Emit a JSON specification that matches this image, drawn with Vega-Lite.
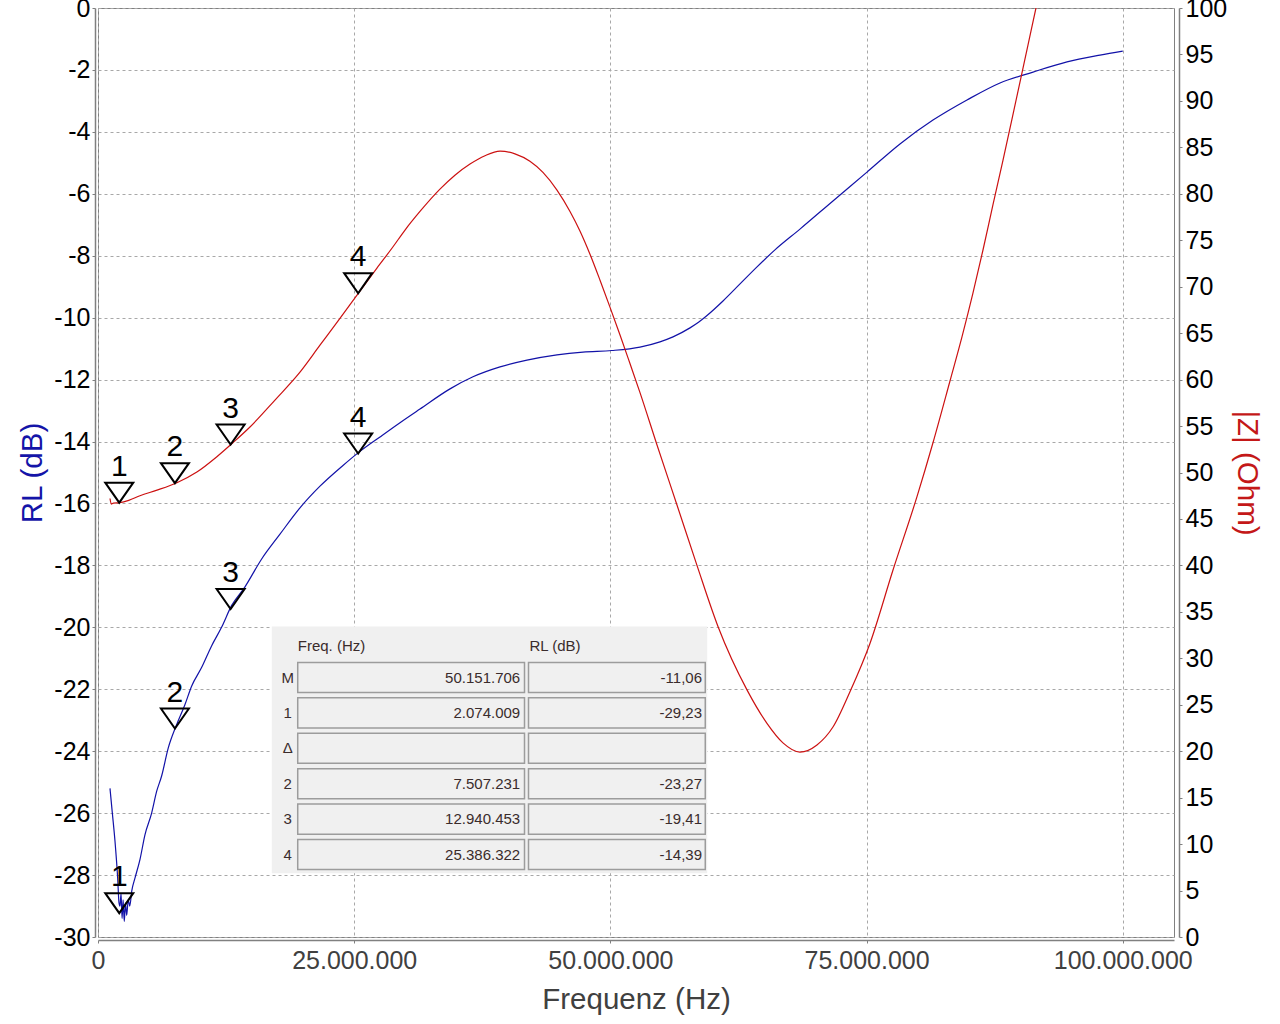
{
  "$schema": "https://vega.github.io/schema/vega-lite/v6.json",
  "width": 1076,
  "height": 929,
  "autosize": "none",
  "padding": {"left": 98, "top": 8, "right": 106, "bottom": 87},
  "background": "white",
  "config": {
    "font": "Liberation Sans",
    "locale": {"number": {"decimal": ",", "thousands": ".", "grouping": [3], "currency": ["", " €"], "minus": "-"}},
    "view": {"stroke": "#808080", "strokeWidth": 1}
  },
  "datasets": {
    "rl": [
      {"f": 1170000, "rl": -25.2}, {"f": 1400000, "rl": -26.0}, {"f": 1657000, "rl": -26.9},
      {"f": 1920000, "rl": -28.1}, {"f": 2050000, "rl": -28.9}, {"f": 2144000, "rl": -29.0},
      {"f": 2250000, "rl": -28.6}, {"f": 2350000, "rl": -29.4}, {"f": 2450000, "rl": -28.8},
      {"f": 2563000, "rl": -29.5}, {"f": 2680000, "rl": -28.9}, {"f": 2800000, "rl": -29.3},
      {"f": 2953000, "rl": -28.8}, {"f": 3100000, "rl": -29.0}, {"f": 3300000, "rl": -28.5},
      {"f": 3606000, "rl": -28.1}, {"f": 4094000, "rl": -27.5}, {"f": 4581000, "rl": -26.7},
      {"f": 5234000, "rl": -26.0}, {"f": 5721000, "rl": -25.3}, {"f": 6209000, "rl": -24.8},
      {"f": 6852000, "rl": -23.9}, {"f": 7602000, "rl": -23.2}, {"f": 8480000, "rl": -22.5},
      {"f": 9133000, "rl": -21.9}, {"f": 10107000, "rl": -21.3}, {"f": 11082000, "rl": -20.6},
      {"f": 12057000, "rl": -20.0}, {"f": 13031000, "rl": -19.3}, {"f": 14327000, "rl": -18.7},
      {"f": 15955000, "rl": -17.8}, {"f": 17739000, "rl": -17.0}, {"f": 19688000, "rl": -16.15},
      {"f": 21637000, "rl": -15.45}, {"f": 23879000, "rl": -14.78}, {"f": 25439000, "rl": -14.35},
      {"f": 27520000, "rl": -13.85}, {"f": 29470000, "rl": -13.39}, {"f": 31420000, "rl": -12.95},
      {"f": 34350000, "rl": -12.3}, {"f": 36590000, "rl": -11.91}, {"f": 39230000, "rl": -11.59},
      {"f": 41860000, "rl": -11.37}, {"f": 44790000, "rl": -11.2}, {"f": 47330000, "rl": -11.11},
      {"f": 50152000, "rl": -11.06}, {"f": 52890000, "rl": -10.95}, {"f": 54840000, "rl": -10.78},
      {"f": 56110000, "rl": -10.62}, {"f": 57770000, "rl": -10.33}, {"f": 58600000, "rl": -10.15},
      {"f": 59430000, "rl": -9.93}, {"f": 60990000, "rl": -9.46}, {"f": 62650000, "rl": -8.91},
      {"f": 64310000, "rl": -8.36}, {"f": 66060000, "rl": -7.81}, {"f": 68500000, "rl": -7.14},
      {"f": 71720000, "rl": -6.23}, {"f": 75040000, "rl": -5.3}, {"f": 78260000, "rl": -4.39},
      {"f": 81480000, "rl": -3.62}, {"f": 84800000, "rl": -2.97}, {"f": 88020000, "rl": -2.42},
      {"f": 91240000, "rl": -2.07}, {"f": 94560000, "rl": -1.74}, {"f": 97780000, "rl": -1.52},
      {"f": 100000000, "rl": -1.39}
    ],
    "z": [
      {"f": 1170000, "z": 47.2}, {"f": 1300000, "z": 46.6}, {"f": 1500000, "z": 46.7},
      {"f": 2144000, "z": 46.75}, {"f": 3000000, "z": 47.0}, {"f": 4094000, "z": 47.5},
      {"f": 5760000, "z": 48.1}, {"f": 7700000, "z": 48.9}, {"f": 9650000, "z": 50.05},
      {"f": 11600000, "z": 51.7}, {"f": 13160000, "z": 53.2}, {"f": 14830000, "z": 54.9},
      {"f": 17270000, "z": 57.8}, {"f": 19710000, "z": 60.8}, {"f": 21660000, "z": 63.7},
      {"f": 23610000, "z": 66.6}, {"f": 25470000, "z": 69.4}, {"f": 27220000, "z": 72.0},
      {"f": 28790000, "z": 74.3}, {"f": 29960000, "z": 76.1}, {"f": 31420000, "z": 78.1},
      {"f": 33370000, "z": 80.5}, {"f": 34830000, "z": 82.0}, {"f": 36300000, "z": 83.2},
      {"f": 37760000, "z": 84.1}, {"f": 39230000, "z": 84.6}, {"f": 40690000, "z": 84.3},
      {"f": 42150000, "z": 83.5}, {"f": 43420000, "z": 82.3}, {"f": 44790000, "z": 80.4},
      {"f": 46060000, "z": 78.1}, {"f": 47030000, "z": 76.0}, {"f": 48010000, "z": 73.5},
      {"f": 48990000, "z": 70.7}, {"f": 49960000, "z": 67.8}, {"f": 50940000, "z": 64.8},
      {"f": 51920000, "z": 61.7}, {"f": 52890000, "z": 58.6}, {"f": 54550000, "z": 52.96},
      {"f": 56500000, "z": 46.5}, {"f": 58450000, "z": 40.0}, {"f": 60510000, "z": 33.4},
      {"f": 63330000, "z": 26.6}, {"f": 65280000, "z": 23.0}, {"f": 66840000, "z": 20.9},
      {"f": 68500000, "z": 19.9}, {"f": 70160000, "z": 20.67}, {"f": 71720000, "z": 22.6},
      {"f": 73380000, "z": 26.4}, {"f": 75330000, "z": 31.6}, {"f": 77580000, "z": 39.5},
      {"f": 79920000, "z": 47.4}, {"f": 81480000, "z": 53.2}, {"f": 83140000, "z": 59.85},
      {"f": 84310000, "z": 64.6}, {"f": 85380000, "z": 69.3}, {"f": 86360000, "z": 73.95},
      {"f": 87330000, "z": 78.8}, {"f": 88310000, "z": 83.6}, {"f": 89190000, "z": 88.05},
      {"f": 90160000, "z": 93.0}, {"f": 90750000, "z": 96.0}, {"f": 91530000, "z": 100.0},
      {"f": 91920000, "z": 101.9}
    ],
    "markers": [
      {"f": 2074009, "rl": -29.23, "z": 46.75, "label": "1"},
      {"f": 7507231, "rl": -23.27, "z": 48.85, "label": "2"},
      {"f": 12940453, "rl": -19.41, "z": 53.0, "label": "3"},
      {"f": 25386322, "rl": -14.39, "z": 69.3, "label": "4"}
    ],
    "table": [
      {"key": "M", "freq": "50.151.706", "rl": "-11,06"},
      {"key": "1", "freq": "2.074.009", "rl": "-29,23"},
      {"key": "Δ", "freq": "", "rl": ""},
      {"key": "2", "freq": "7.507.231", "rl": "-23,27"},
      {"key": "3", "freq": "12.940.453", "rl": "-19,41"},
      {"key": "4", "freq": "25.386.322", "rl": "-14,39"}
    ]
  },
  "layer": [
    {
      "layer": [
        {
          "data": {"name": "rl"},
          "mark": {"type": "line", "color": "#1212a8", "strokeWidth": 1.2, "interpolate": "monotone"},
          "encoding": {
            "x": {
              "field": "f", "type": "quantitative",
              "scale": {"domain": [0, 105000000], "nice": false},
              "axis": {
                "values": [0, 25000000, 50000000, 75000000, 100000000],
                "format": ",d", "title": "Frequenz (Hz)",
                "titleFontSize": 29.5, "titleFontWeight": "normal", "titleColor": "#404040",
                "labelFontSize": 25, "labelColor": "#404040", "labelFlush": false,
                "grid": true, "gridColor": "#a8a8a8", "gridDash": [3, 3],
                "domainColor": "#808080", "domainWidth": 1.5, "tickColor": "#808080", "tickSize": 3,
                "offset": 3, "labelPadding": 5, "titlePadding": 12
              }
            },
            "y": {
              "field": "rl", "type": "quantitative",
              "scale": {"domain": [-30, 0], "nice": false},
              "axis": {
                "orient": "left",
                "values": [-30, -28, -26, -24, -22, -20, -18, -16, -14, -12, -10, -8, -6, -4, -2, 0],
                "title": "RL (dB)", "titleFontSize": 29.5, "titleFontWeight": "normal", "titleColor": "#1414a8",
                "labelFontSize": 25, "labelColor": "#000000", "labelFlush": false, "labelOverlap": false,
                "grid": true, "gridColor": "#a8a8a8", "gridDash": [3, 3],
                "domainColor": "#808080", "domainWidth": 1.5, "tickColor": "#808080", "tickSize": 3,
                "offset": 3, "labelPadding": 2, "titlePadding": 6
              }
            }
          }
        },
        {
          "data": {"values": [{}]},
          "mark": {"type": "rect", "fill": "#f0f0f0"},
          "encoding": {
            "x": {"datum": 16960000, "type": "quantitative"},
            "x2": {"datum": 59450000},
            "y": {"datum": -19.97, "type": "quantitative"},
            "y2": {"datum": -27.94}
          }
        },
        {
          "data": {"name": "markers"},
          "mark": {"type": "point", "shape": "M-1,-1.43L1,-1.43L0,0Z", "size": 784, "filled": false, "color": "black", "strokeWidth": 2, "opacity": 1},
          "encoding": {
            "x": {"field": "f", "type": "quantitative"},
            "y": {"field": "rl", "type": "quantitative"}
          }
        },
        {
          "data": {"name": "markers"},
          "mark": {"type": "text", "fontSize": 30, "dy": -27, "baseline": "alphabetic", "color": "black"},
          "encoding": {
            "x": {"field": "f", "type": "quantitative"},
            "y": {"field": "rl", "type": "quantitative"},
            "text": {"field": "label"}
          }
        }
      ]
    },
    {
      "layer": [
        {
          "data": {"name": "z"},
          "mark": {"type": "line", "color": "#cc1111", "strokeWidth": 1.2, "clip": true, "interpolate": "monotone"},
          "encoding": {
            "x": {"field": "f", "type": "quantitative"},
            "y": {
              "field": "z", "type": "quantitative",
              "scale": {"domain": [0, 100], "nice": false},
              "axis": {
                "orient": "right",
                "values": [0, 5, 10, 15, 20, 25, 30, 35, 40, 45, 50, 55, 60, 65, 70, 75, 80, 85, 90, 95, 100],
                "title": "|Z| (Ohm)", "titleFontSize": 29.5, "titleFontWeight": "normal", "titleColor": "#c41818",
                "labelFontSize": 25, "labelColor": "#000000", "labelFlush": false, "labelOverlap": false,
                "grid": false,
                "domainColor": "#808080", "domainWidth": 1.5, "tickColor": "#808080", "tickSize": 3,
                "offset": 5, "labelPadding": 3, "titlePadding": 5
              }
            }
          }
        },
        {
          "data": {"name": "markers"},
          "mark": {"type": "point", "shape": "M-1,-1.43L1,-1.43L0,0Z", "size": 784, "filled": false, "color": "black", "strokeWidth": 2, "opacity": 1},
          "encoding": {
            "x": {"field": "f", "type": "quantitative"},
            "y": {"field": "z", "type": "quantitative"}
          }
        },
        {
          "data": {"name": "markers"},
          "mark": {"type": "text", "fontSize": 30, "dy": -27, "baseline": "alphabetic", "color": "black"},
          "encoding": {
            "x": {"field": "f", "type": "quantitative"},
            "y": {"field": "z", "type": "quantitative"},
            "text": {"field": "label"}
          }
        }
      ]
    },
    {
      "layer": [
        {
          "data": {"name": "table"},
          "mark": {"type": "bar", "fill": "#f0f0f0", "stroke": "#9c9c9c", "strokeWidth": 1.5, "height": {"band": 0.85}},
          "encoding": {
            "x": {"datum": 19490000, "type": "quantitative"},
            "x2": {"datum": 41620000},
            "y": {"field": "key", "type": "nominal", "scale": {"domain": ["hdr", "M", "1", "Δ", "2", "3", "4"], "range": [616.4, 864.2], "paddingInner": 0, "paddingOuter": 0}, "axis": null}
          }
        },
        {
          "data": {"name": "table"},
          "mark": {"type": "bar", "fill": "#f0f0f0", "stroke": "#9c9c9c", "strokeWidth": 1.5, "height": {"band": 0.85}},
          "encoding": {
            "x": {"datum": 42010000, "type": "quantitative"},
            "x2": {"datum": 59260000},
            "y": {"field": "key", "type": "nominal"}
          }
        },
        {
          "data": {"name": "table"},
          "mark": {"type": "text", "fontSize": 15, "color": "#3a2c2c", "align": "center"},
          "encoding": {
            "x": {"datum": 18520000, "type": "quantitative"},
            "y": {"field": "key", "type": "nominal"},
            "text": {"field": "key"}
          }
        },
        {
          "data": {"name": "table"},
          "mark": {"type": "text", "fontSize": 15, "color": "#3a2c2c", "align": "right"},
          "encoding": {
            "x": {"datum": 41200000, "type": "quantitative"},
            "y": {"field": "key", "type": "nominal"},
            "text": {"field": "freq"}
          }
        },
        {
          "data": {"name": "table"},
          "mark": {"type": "text", "fontSize": 15, "color": "#3a2c2c", "align": "right"},
          "encoding": {
            "x": {"datum": 58940000, "type": "quantitative"},
            "y": {"field": "key", "type": "nominal"},
            "text": {"field": "rl"}
          }
        },
        {
          "data": {"values": [{"key": "hdr", "t": "Freq. (Hz)"}]},
          "mark": {"type": "text", "fontSize": 15, "color": "#3a2c2c", "align": "left", "dy": 4},
          "encoding": {
            "x": {"datum": 19490000, "type": "quantitative"},
            "y": {"field": "key", "type": "nominal"},
            "text": {"field": "t"}
          }
        },
        {
          "data": {"values": [{"key": "hdr", "t": "RL (dB)"}]},
          "mark": {"type": "text", "fontSize": 15, "color": "#3a2c2c", "align": "left", "dy": 4},
          "encoding": {
            "x": {"datum": 42100000, "type": "quantitative"},
            "y": {"field": "key", "type": "nominal"},
            "text": {"field": "t"}
          }
        }
      ]
    }
  ],
  "resolve": {"scale": {"y": "independent"}, "axis": {"y": "independent"}}
}
